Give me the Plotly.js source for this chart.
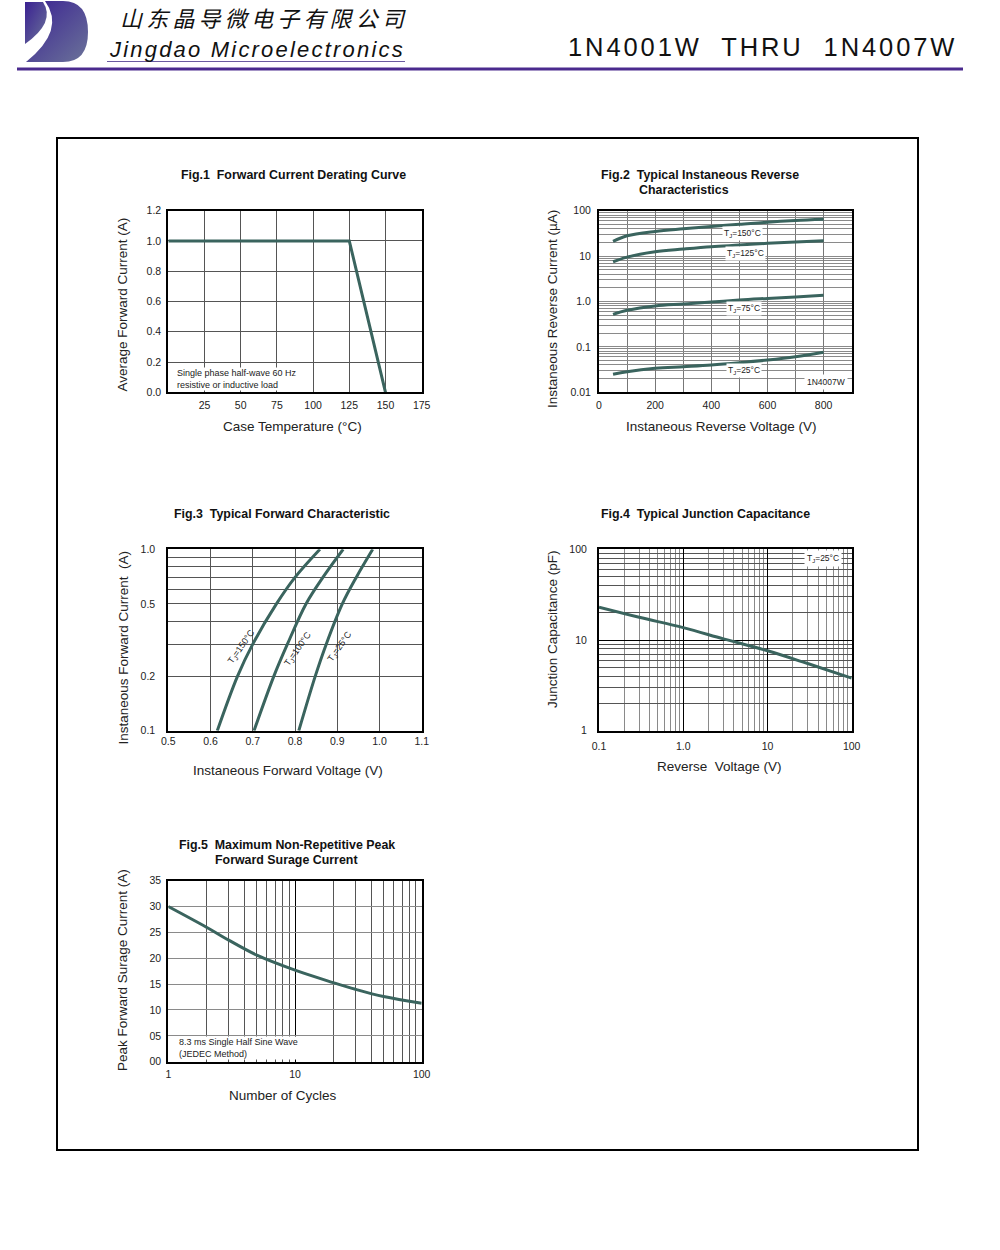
<!DOCTYPE html>
<html><head><meta charset="utf-8">
<script src="https://cdn.plot.ly/plotly-3.0.1.min.js"></script>
<style>
html,body{margin:0;padding:0;background:#fff;}
#wrap{position:relative;width:1000px;height:1250px;overflow:hidden;}
#chart{position:absolute;left:0;top:0;width:1000px;height:1250px;}
.hdr{position:absolute;white-space:pre;}
</style></head><body>
<div id="wrap">
<div id="chart"></div>
<svg class="hdr" style="left:0;top:0" width="1000" height="75">
 <defs><linearGradient id="lg" x1="0" y1="0" x2="1" y2="1"><stop offset="0" stop-color="#3a2192"/><stop offset="1" stop-color="#6b7399"/></linearGradient></defs>
 <path d="M25,2 L43,2 Q56,22 25,44 Z" fill="url(#lg)"/>
 <path d="M45,1 L63,1 Q88,1 88,32 Q88,62 63,62 L26,62 Q66,30 45,1 Z" fill="url(#lg)"/>
 <line x1="107" y1="61.5" x2="405" y2="61.5" stroke="#6a5aa0" stroke-width="1"/>
 <line x1="17" y1="69" x2="963" y2="69" stroke="#4a2a8e" stroke-width="3"/>
</svg>
<div class="hdr" style="left:120px;top:6px;font:italic 22px/22px 'Noto Sans CJK SC';letter-spacing:4.2px;color:#111">山东晶导微电子有限公司</div>
<div class="hdr" style="left:110px;top:39px;font:italic 22px/22px 'Liberation Sans';letter-spacing:2.2px;color:#111">Jingdao Microelectronics</div>
<div class="hdr" style="left:568px;top:35px;font:25.5px/25.5px 'Liberation Sans';letter-spacing:2.9px;color:#111">1N4001W  THRU  1N4007W</div>
</div>
<script>
// ---------- data ----------
// Fig.1 Forward Current Derating Curve
const f1Temp = [0, 125, 150];
const f1Current = [1.0, 1.0, 0.0];
const f1XTicks = [25, 50, 75, 100, 125, 150, 175];
const f1YTicks = [0, 0.2, 0.4, 0.6, 0.8, 1.0, 1.2];
const f1YLabels = ['0.0', '0.2', '0.4', '0.6', '0.8', '1.0', '1.2'];

// Fig.2 Typical Instaneous Reverse Characteristics (uA)
const f2Voltage = [50, 100, 200, 300, 400, 500, 600, 700, 800];
const f2I150 = [21, 28, 35, 40, 45, 50, 56, 61, 65];
const f2I125 = [7.5, 9.5, 12.5, 14.3, 16.1, 17.5, 19.1, 20.5, 21.8];
const f2I75 = [0.52, 0.64, 0.80, 0.88, 0.97, 1.08, 1.17, 1.26, 1.37];
const f2I25 = [0.0249, 0.0284, 0.0338, 0.0367, 0.040, 0.0449, 0.0514, 0.0608, 0.076];
const f2XTicks = [0, 200, 400, 600, 800];
const f2XLabels = ['0', '200', '400', '600', '800'];
const f2XMinor = [100, 300, 500, 700, 900];
const f2YTicks = [0.01, 0.1, 1, 10, 100];
const f2YLabels = ['0.01', '0.1', '1.0', '10', '100'];
const f2Names = ['T<sub>J</sub>=150°C', 'T<sub>J</sub>=125°C', 'T<sub>J</sub>=75°C', 'T<sub>J</sub>=25°C'];

// Fig.3 Typical Forward Characteristic
const f3Current = [0.1, 0.2, 0.3, 0.5, 0.7, 1.0];
const f3V150 = [0.616, 0.664, 0.700, 0.756, 0.800, 0.859];
const f3V100 = [0.703, 0.750, 0.782, 0.826, 0.866, 0.914];
const f3V25 = [0.809, 0.848, 0.874, 0.912, 0.945, 0.984];
const f3XTicks = [0.5, 0.6, 0.7, 0.8, 0.9, 1.0, 1.1];
const f3XLabels = ['0.5', '0.6', '0.7', '0.8', '0.9', '1.0', '1.1'];
const f3YTicks = [0.1, 0.2, 0.5, 1.0];
const f3YLabels = ['0.1', '0.2', '0.5', '1.0'];
const f3YMinor = [0.3, 0.4, 0.6, 0.7, 0.8, 0.9];
const f3Names = ['T<sub>J</sub>=150°C', 'T<sub>J</sub>=100°C', 'T<sub>J</sub>=25°C'];

// Fig.4 Typical Junction Capacitance
const f4Voltage = [0.1, 0.3, 1, 3, 10, 30, 100];
const f4Cap = [23, 17.8, 13.7, 10.3, 7.6, 5.5, 3.8];
const f4XTicks = [0.1, 1, 10, 100];
const f4XLabels = ['0.1', '1.0', '10', '100'];
const f4YTicks = [1, 10, 100];
const f4YLabels = ['1', '10', '100'];

// Fig.5 Maximum Non-Repetitive Peak Forward Surage Current
const f5Cycles = [1, 2, 3, 5, 10, 20, 30, 50, 100];
const f5Current = [30, 26, 23.5, 20.6, 17.7, 15.3, 14.0, 12.6, 11.3];
const f5XTicks = [1, 10, 100];
const f5XLabels = ['1', '10', '100'];
const f5YTicks = [0, 5, 10, 15, 20, 25, 30, 35];
const f5YLabels = ['00', '05', '10', '15', '20', '25', '30', '35'];

// ---------- helpers ----------
const FONT = 'Liberation Sans, Arial, sans-serif';
const CURVE = '#3a645e';
const P = v => v / 1000;          // page px -> paper x
const Q = v => 1 - v / 1250;      // page px -> paper y

// minor log grid values (2..9 in every decade)
function logMinor(lo, hi) {
  const v = [];
  for (let e = lo; e < hi; e++) for (let k = 2; k < 10; k++) v.push(k * Math.pow(10, e));
  return v;
}

function ax(extra, minorVals, minorColor) {
  const a = Object.assign({
    showline: true, mirror: true, linecolor: '#000', linewidth: 2,
    ticks: '', showgrid: true, gridwidth: 1, zeroline: false, fixedrange: true,
    tickmode: 'array', tickfont: {family: FONT, size: 10.5, color: '#222'}
  }, extra);
  if (minorVals) a.minor = {tickmode: 'array', tickvals: minorVals, showgrid: true,
    gridcolor: minorColor, gridwidth: 1, ticks: ''};
  return a;
}

function line(x, y, xa, ya, shape) {
  return {x, y, xaxis: xa, yaxis: ya, type: 'scatter', mode: 'lines', hoverinfo: 'skip',
    showlegend: false, line: {color: CURVE, width: 3, shape: shape || 'spline', smoothing: 1}};
}

const traces = [
  line(f1Temp, f1Current, 'x', 'y', 'linear'),
  line(f2Voltage, f2I150, 'x2', 'y2'),
  line(f2Voltage, f2I125, 'x2', 'y2'),
  line(f2Voltage, f2I75, 'x2', 'y2'),
  line(f2Voltage, f2I25, 'x2', 'y2'),
  line(f3V150, f3Current, 'x3', 'y3'),
  line(f3V100, f3Current, 'x3', 'y3'),
  line(f3V25, f3Current, 'x3', 'y3'),
  line(f4Voltage, f4Cap, 'x4', 'y4'),
  line(f5Cycles, f5Current, 'x5', 'y5')
];

const dom = {
  L: [P(168.3), P(421.7)], R: [P(599), P(851.7)],
  r1: [Q(392.3), Q(210.7)], r2: [Q(730.7), Q(549.3)], r3: [Q(1061.7), Q(880.7)]
};

const layout = {
  width: 1000, height: 1250, margin: {l: 0, r: 0, t: 0, b: 0},
  paper_bgcolor: '#fff', plot_bgcolor: '#fff', showlegend: false,
  font: {family: FONT, color: '#222'},
  xaxis: ax({domain: dom.L, anchor: 'y', range: [0, 175], tickvals: f1XTicks, gridcolor: '#555', ticklabelstandoff: 2}),
  yaxis: ax({domain: dom.r1, anchor: 'x', range: [0, 1.2], tickvals: f1YTicks, ticktext: f1YLabels, gridcolor: '#555', ticklabelstandoff: 3}),
  xaxis2: ax({domain: dom.R, anchor: 'y2', range: [0, 900], tickvals: f2XTicks, ticktext: f2XLabels, gridcolor: '#777', ticklabelstandoff: 2}, f2XMinor, '#777'),
  yaxis2: ax({domain: dom.r1, anchor: 'x2', type: 'log', range: [-2, 2], tickvals: f2YTicks, ticktext: f2YLabels, gridcolor: '#8a8a8a', ticklabelstandoff: 4}, logMinor(-2, 2), '#8a8a8a'),
  // overlay axis drawing the dark 1.0 decade line of Fig.2
  yaxis6: {overlaying: 'y2', anchor: 'x2', type: 'log', range: [-2, 2], tickmode: 'array', tickvals: [1],
    showticklabels: false, showgrid: true, gridcolor: '#000', gridwidth: 1.2, showline: false, ticks: '', zeroline: false, fixedrange: true},
  xaxis3: ax({domain: dom.L, anchor: 'y3', range: [0.5, 1.1], tickvals: f3XTicks, ticktext: f3XLabels, gridcolor: '#555', ticklabelstandoff: 0}),
  yaxis3: ax({domain: dom.r2, anchor: 'x3', type: 'log', range: [-1, 0], tickvals: f3YTicks, ticktext: f3YLabels, gridcolor: '#555', ticklabelstandoff: 9}, f3YMinor, '#555'),
  xaxis4: ax({domain: dom.R, anchor: 'y4', type: 'log', range: [-1, 2], tickvals: f4XTicks, ticktext: f4XLabels, gridcolor: '#000', ticklabelstandoff: 5}, logMinor(-1, 2), '#8a8a8a'),
  yaxis4: ax({domain: dom.r2, anchor: 'x4', type: 'log', range: [0, 2], tickvals: f4YTicks, ticktext: f4YLabels, gridcolor: '#000', ticklabelstandoff: 8}, logMinor(0, 2), '#555'),
  xaxis5: ax({domain: dom.L, anchor: 'y5', type: 'log', range: [0, 2], tickvals: f5XTicks, ticktext: f5XLabels, gridcolor: '#000', ticklabelstandoff: 2}, logMinor(0, 2), '#555'),
  yaxis5: ax({domain: dom.r3, anchor: 'x5', range: [0, 35], tickvals: f5YTicks, ticktext: f5YLabels, gridcolor: '#8a8a8a', ticklabelstandoff: 3}),
  shapes: [
    {type: 'rect', xref: 'paper', yref: 'paper', x0: P(57), x1: P(918), y0: Q(1150), y1: Q(138), line: {color: '#000', width: 2}}
  ],
  annotations: []
};

const A = layout.annotations;
function txt(text, x, y, opt) {
  A.push(Object.assign({text, x: P(x), y: Q(y), xref: 'paper', yref: 'paper', showarrow: false,
    xanchor: 'center', yanchor: 'middle',
    font: {family: FONT, size: 13.5, color: '#222'}}, opt || {}));
}
const bold = {family: FONT, size: 12.4, color: '#111', weight: 700};

// figure titles
txt('<b>Fig.1\u00a0 Forward Current Derating Curve</b>', 179, 175, {xanchor: 'left', font: bold});
txt('<b>Fig.2\u00a0 Typical Instaneous Reverse</b>', 599, 175, {xanchor: 'left', font: bold});
txt('<b>Characteristics</b>', 637, 190, {xanchor: 'left', font: bold});
txt('<b>Fig.3\u00a0 Typical Forward Characteristic</b>', 171.5, 514, {xanchor: 'left', font: bold});
txt('<b>Fig.4\u00a0 Typical Junction Capacitance</b>', 599, 514, {xanchor: 'left', font: bold});
txt('<b>Fig.5\u00a0 Maximum Non-Repetitive Peak</b>', 286.5, 845, {font: bold});
txt('<b>Forward Surage Current</b>', 286.5, 860, {font: bold});

// axis titles
txt('Case Temperature (°C)', 292.5, 426);
txt('Average Forward Current (A)', 122, 304.5, {textangle: -90});
txt('Instaneous Reverse Voltage (V)', 721.5, 426.5);
txt('Instaneous Reverse Current (µA)', 553, 309, {textangle: -90});
txt('Instaneous Forward Voltage (V)', 288, 770);
txt('Instaneous Forward Current\u00a0 (A)', 123, 647.5, {textangle: -90});
txt('Reverse\u00a0 Voltage (V)', 719, 766.5);
txt('Junction Capacitance (pF)', 552, 629, {textangle: -90});
txt('Number of Cycles', 283, 1095.5);
txt('Peak Forward Surage Current (A)', 122, 970, {textangle: -90});

// notes
const small = {family: FONT, size: 9, color: '#222'};
function note(text, xr, yr, x, y) {
  A.push({text, xref: xr, yref: yr, x, y, xanchor: 'left', yanchor: 'middle', align: 'left',
    showarrow: false, bgcolor: '#fff', borderpad: 0, font: small});
}
note('Single phase half-wave 60 Hz<br>resistive or inductive load', 'x domain', 'y domain', 0.03, 0.073);
note('8.3 ms Single Half Sine Wave<br>(JEDEC Method)', 'x5 domain', 'y5 domain', 0.038, 0.073);
A.push({text: '1N4007W', xref: 'x2 domain', yref: 'y2 domain', x: 0.985, y: 0.014,
  xanchor: 'right', yanchor: 'bottom', showarrow: false, bgcolor: '#fff', borderpad: 2,
  font: {family: FONT, size: 8.5, color: '#222'}});

// curve labels fig 2
const lab = {family: FONT, size: 8.5, color: '#222'};
const f2LabV = [511, 523, 517, 517], f2LabI = [32, 11.5, 0.71, 0.0295];
f2Names.forEach((n, i) => A.push({text: n, xref: 'x2', yref: 'y2', x: f2LabV[i], y: Math.log10(f2LabI[i]),
  showarrow: false, bgcolor: '#fff', borderpad: 1, font: lab}));
// curve labels fig 3
const f3LabV = [0.674, 0.808, 0.907], f3LabI = [0.29, 0.284, 0.29];
f3Names.forEach((n, i) => A.push({text: n, xref: 'x3', yref: 'y3', x: f3LabV[i], y: Math.log10(f3LabI[i]),
  showarrow: false, textangle: -55, font: {family: FONT, size: 9, color: '#222'}}));
// fig 4 label
A.push({text: 'T<sub>J</sub>=25°C', xref: 'x4', yref: 'y4', x: Math.log10(46), y: Math.log10(79.5),
  showarrow: false, bgcolor: '#fff', borderpad: 2, font: lab});

Plotly.newPlot('chart', traces, layout, {staticPlot: true, displayModeBar: false});
</script>
</body></html>
